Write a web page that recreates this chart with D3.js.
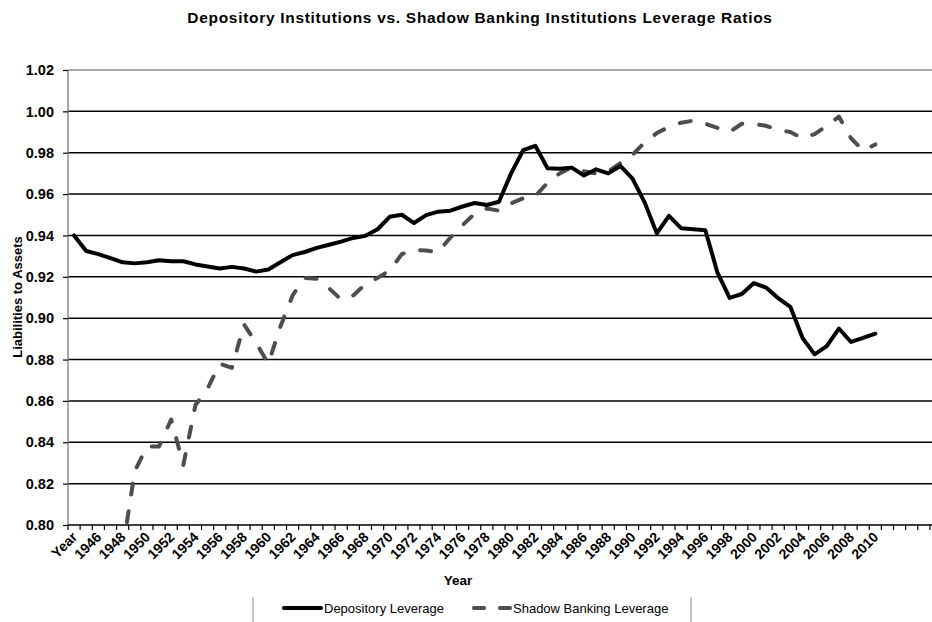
<!DOCTYPE html>
<html>
<head>
<meta charset="utf-8">
<script src="https://cdn.jsdelivr.net/npm/d3@7"></script>
<style>
  body { margin: 0; background: #fff; }
  svg text { font-family: "Liberation Sans", Arial, sans-serif; }
</style>
</head>
<body>
<svg id="chart" width="932" height="622"></svg>
<script>
// categories (first slot is the "Year" header row, as in the source sheet)
var yearLabels = ["Year", "1945", "1946", "1947", "1948", "1949", "1950", "1951", "1952", "1953",
  "1954", "1955", "1956", "1957", "1958", "1959", "1960", "1961", "1962", "1963", "1964",
  "1965", "1966", "1967", "1968", "1969", "1970", "1971", "1972", "1973", "1974", "1975",
  "1976", "1977", "1978", "1979", "1980", "1981", "1982", "1983", "1984", "1985", "1986",
  "1987", "1988", "1989", "1990", "1991", "1992", "1993", "1994", "1995", "1996", "1997",
  "1998", "1999", "2000", "2001", "2002", "2003", "2004", "2005", "2006", "2007", "2008",
  "2009", "2010"];
var emptySlots = 5;

var depository = [0.940, 0.9325, 0.931, 0.929, 0.927, 0.9265, 0.927, 0.928, 0.9275, 0.9275,
  0.926, 0.925, 0.924, 0.9248, 0.924, 0.9225, 0.9235, 0.927, 0.9305, 0.932, 0.934,
  0.9355, 0.937, 0.9388, 0.9398, 0.943, 0.949, 0.950, 0.946, 0.9498, 0.9515, 0.952,
  0.954, 0.9557, 0.9547, 0.9563, 0.970, 0.9813, 0.9833, 0.9725, 0.9722, 0.9728, 0.969,
  0.972, 0.970, 0.9736, 0.9675, 0.956, 0.941, 0.9495, 0.9435, 0.943, 0.9425, 0.922,
  0.9098, 0.9117, 0.917, 0.9148, 0.9097, 0.9055, 0.8905, 0.8825, 0.8865, 0.895, 0.8885,
  0.8905, 0.8925];

var shadow = [null, null, null, null, 0.788, 0.826, 0.838, 0.838, 0.851, 0.829,
  0.858, 0.866, 0.878, 0.876, 0.897, 0.888, 0.878, 0.896, 0.911, 0.9195, 0.919,
  0.9145, 0.909, 0.911, 0.9165, 0.9195, 0.923, 0.931, 0.933, 0.9327, 0.932, 0.939,
  0.945, 0.9505, 0.953, 0.952, 0.9555, 0.958, 0.959, 0.9655, 0.970, 0.973, 0.971,
  0.970, 0.971, 0.975, 0.979, 0.985, 0.9895, 0.9925, 0.9945, 0.9955, 0.994, 0.992,
  0.990, 0.994, 0.994, 0.993, 0.991, 0.990, 0.987, 0.989, 0.993, 0.9975, 0.987,
  0.981, 0.984];

var yTicks = [0.80, 0.82, 0.84, 0.86, 0.88, 0.90, 0.92, 0.94, 0.96, 0.98, 1.00, 1.02];

var svg = d3.select("#chart");
var plotLeft = 68, plotTop = 70, plotBottom = 525, step = 12.14;
var nCats = yearLabels.length + emptySlots;

var x = d3.scaleBand().domain(d3.range(nCats)).range([plotLeft, plotLeft + nCats*step]).padding(0);
var y = d3.scaleLinear().domain([0.80, 1.02]).range([plotBottom, plotTop]);
function cx(i) { return x(i) + x.bandwidth()/2; }

svg.append("rect").attr("width", 932).attr("height", 622).attr("fill", "#fff");

// title
svg.append("text")
  .attr("x", 480).attr("y", 23)
  .attr("text-anchor", "middle")
  .attr("font-size", 15.5).attr("font-weight", "bold")
  .attr("letter-spacing", 0.7)
  .text("Depository Institutions vs. Shadow Banking Institutions Leverage Ratios");

// gridlines
svg.selectAll("line.grid").data(yTicks.slice(1, -1)).enter()
  .append("line")
    .attr("class", "grid")
    .attr("x1", plotLeft).attr("x2", 940)
    .attr("y1", function(d){ return y(d); })
    .attr("y2", function(d){ return y(d); })
    .attr("stroke", "#000").attr("stroke-width", 1.5);

// top border + left axis (grey)
svg.append("line").attr("x1", plotLeft).attr("x2", 940).attr("y1", y(1.02)).attr("y2", y(1.02))
  .attr("stroke", "#8c8c8c").attr("stroke-width", 1.5);
svg.append("line").attr("x1", plotLeft).attr("x2", plotLeft).attr("y1", y(1.02)).attr("y2", plotBottom)
  .attr("stroke", "#8c8c8c").attr("stroke-width", 1.5);

// y axis labels + tick marks
var yAxis = d3.axisLeft(y).tickValues(yTicks).tickFormat(d3.format(".2f")).tickSize(5).tickPadding(9);
var gy = svg.append("g").attr("transform", "translate(" + plotLeft + ",0)").call(yAxis);
gy.select(".domain").remove();
gy.selectAll(".tick line").attr("stroke", "#000").attr("stroke-width", 1.2);
gy.selectAll(".tick text")
  .attr("font-family", "Liberation Sans, Arial, sans-serif")
  .attr("font-size", 14.5).attr("font-weight", "bold").attr("fill", "#000");

// x axis baseline and boundary ticks
svg.append("line").attr("x1", plotLeft).attr("x2", 940).attr("y1", plotBottom).attr("y2", plotBottom)
  .attr("stroke", "#000").attr("stroke-width", 1.5);
svg.selectAll("line.xtick").data(d3.range(nCats + 1)).enter()
  .append("line")
    .attr("class", "xtick")
    .attr("x1", function(d){ return plotLeft + d*x.bandwidth(); })
    .attr("x2", function(d){ return plotLeft + d*x.bandwidth(); })
    .attr("y1", plotBottom).attr("y2", plotBottom + 5)
    .attr("stroke", "#000").attr("stroke-width", 1.2);

// category labels, every other one
svg.selectAll("text.xlab").data(yearLabels.filter(function(d, i){ return i % 2 == 0; })).enter()
  .append("text")
    .attr("class", "xlab")
    .attr("transform", function(d, i){ return "translate(" + (cx(i*2) + 4) + "," + (plotBottom + 13) + ") rotate(-45)"; })
    .attr("text-anchor", "end")
    .attr("font-size", 14).attr("font-weight", "bold")
    .text(function(d){ return d; });

// axis titles
svg.append("text")
  .attr("x", 458).attr("y", 585)
  .attr("text-anchor", "middle")
  .attr("font-size", 13.5).attr("font-weight", "bold")
  .text("Year");
svg.append("text")
  .attr("transform", "translate(22,297) rotate(-90)")
  .attr("text-anchor", "middle")
  .attr("font-size", 13).attr("font-weight", "bold")
  .text("Liabilities to Assets");

// clip lines to the plot area
svg.append("clipPath").attr("id", "plotclip")
  .append("rect").attr("x", plotLeft).attr("y", plotTop - 5).attr("width", 900).attr("height", plotBottom - plotTop + 5);

var line = d3.line()
  .defined(function(d){ return d != null; })
  .x(function(d, i){ return cx(i); })
  .y(function(d){ return y(d); });

var plot = svg.append("g").attr("clip-path", "url(#plotclip)");
plot.append("path")
  .attr("d", line(shadow))
  .attr("fill", "none")
  .attr("stroke", "#4d4d4d").attr("stroke-width", 4)
  .attr("stroke-linecap", "round").attr("stroke-linejoin", "round")
  .attr("stroke-dasharray", "11,17");
plot.append("path")
  .attr("d", line(depository))
  .attr("fill", "none")
  .attr("stroke", "#000").attr("stroke-width", 4)
  .attr("stroke-linejoin", "round").attr("stroke-linecap", "round");

// legend
var lg = svg.append("g");
lg.append("line").attr("x1", 253).attr("x2", 253).attr("y1", 597).attr("y2", 622).attr("stroke", "#8c8c8c");
lg.append("line").attr("x1", 691).attr("x2", 691).attr("y1", 597).attr("y2", 622).attr("stroke", "#8c8c8c");
lg.append("line").attr("x1", 284).attr("x2", 321).attr("y1", 608).attr("y2", 608)
  .attr("stroke", "#000").attr("stroke-width", 4).attr("stroke-linecap", "round");
lg.append("text").attr("x", 324).attr("y", 612.5).attr("font-size", 13).text("Depository Leverage");
lg.append("line").attr("x1", 474).attr("x2", 510).attr("y1", 608).attr("y2", 608)
  .attr("stroke", "#4d4d4d").attr("stroke-width", 4).attr("stroke-linecap", "round")
  .attr("stroke-dasharray", "10,16");
lg.append("text").attr("x", 513).attr("y", 612.5).attr("font-size", 13).text("Shadow Banking Leverage");
</script>
</body>
</html>
